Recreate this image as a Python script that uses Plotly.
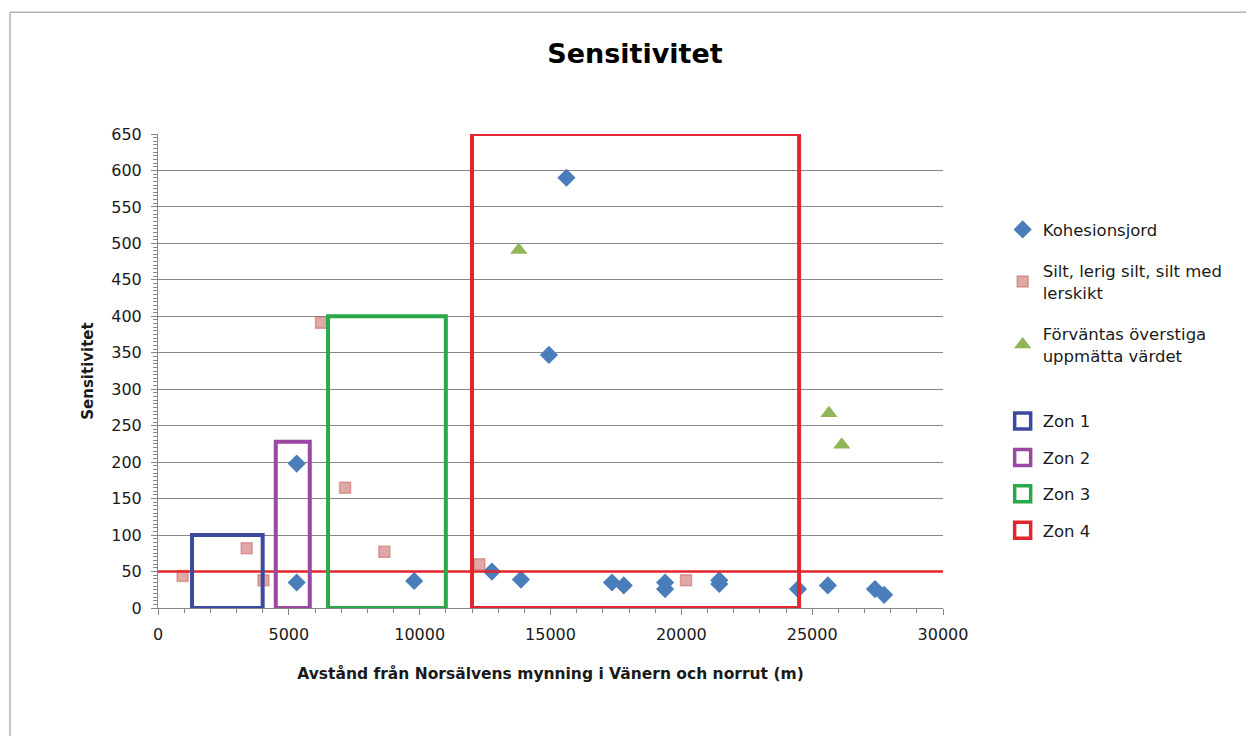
import plotly.graph_objects as go

# ---------------- data ----------------
koh_x = [5300, 5300, 9790, 12760, 13870, 14940, 15610, 17350, 17800, 19380, 19380, 21450, 21450, 24460, 25600, 27400, 27750]
koh_y = [198, 35, 37, 50, 39, 347, 590, 35, 31, 35, 26, 38, 33, 26, 31, 26, 18]

silt_x = [940, 3390, 4030, 6230, 7150, 8650, 12280, 20180]
silt_y = [44, 82, 38, 391, 165, 77, 60, 38]

exp_x = [13790, 25640, 26130]
exp_y = [491, 267, 224]

zone_names = ["Zon 1", "Zon 2", "Zon 3", "Zon 4"]
zone_x0 = [1300, 4500, 6500, 12000]
zone_x1 = [4000, 5800, 11000, 24500]
zone_top = [100, 228, 400, 650]
zone_colors = ["#3C4A9E", "#9A48A2", "#2AA84A", "#E3262D"]

threshold = 50

x_ticks = [0, 5000, 10000, 15000, 20000, 25000, 30000]
y_ticks = list(range(0, 651, 50))

FONT = "DejaVu Sans"
AXIS_GRAY = "#868686"
TXT = "#1a1a1a"

fig = go.Figure()

fig.add_trace(go.Scatter(
    x=koh_x, y=koh_y, mode="markers", name="Kohesionsjord", legendgroup="a",
    marker=dict(symbol="diamond", size=14, color="#4A7EBB"),
))
fig.add_trace(go.Scatter(
    x=silt_x, y=silt_y, mode="markers", name="Silt, lerig silt, silt med<br>lerskikt", legendgroup="b",
    marker=dict(symbol="square", size=11, color="rgba(214,140,138,0.75)",
                line=dict(width=1.5, color="rgba(192,80,77,0.45)")),
))
fig.add_trace(go.Scatter(
    x=exp_x, y=exp_y, mode="markers", name="Förväntas överstiga<br>uppmätta värdet", legendgroup="c",
    marker=dict(symbol="triangle-up", size=15, color="#92B55A"),
))

# zone legend entries
for name, c in zip(zone_names, zone_colors):
    fig.add_trace(go.Scatter(
        x=[None], y=[None], mode="markers", name=name, legend="legend2", legendgroup=name,
        marker=dict(symbol="square-open", size=16, color=c, line=dict(width=3.5, color=c)),
    ))

# threshold line
fig.add_shape(type="line", xref="paper", yref="y", x0=0, x1=1, y0=threshold, y1=threshold,
              line=dict(color="#E3262D", width=2.5), layer="above")

# zone rectangles
for x0, x1, top, c in zip(zone_x0, zone_x1, zone_top, zone_colors):
    fig.add_shape(type="rect", xref="x", yref="y", x0=x0, x1=x1, y0=0, y1=top,
                  line=dict(color=c, width=4), fillcolor="rgba(0,0,0,0)", layer="above")

# outer chart border
fig.add_shape(type="rect", xref="paper", yref="paper", x0=-0.1885, x1=1.41, y0=-0.31, y1=1.257,
              line=dict(color="#8C8C8C", width=1), layer="below")

fig.update_layout(
    width=1254, height=736,
    paper_bgcolor="white", plot_bgcolor="white",
    margin=dict(l=150, r=319, t=126, b=136),
    title=dict(text="<b>Sensitivitet</b>", x=0.5, xref="container", xanchor="center",
               y=1 - 46 / 736, yanchor="middle", font=dict(family=FONT, size=27, color="#000000")),
    font=dict(family=FONT, color=TXT),
    legend=dict(x=1.076, xanchor="left", y=0.835, yanchor="top",
                font=dict(family=FONT, size=16.5, color=TXT),
                tracegroupgap=17, itemwidth=30, bgcolor="rgba(0,0,0,0)"),
    legend2=dict(x=1.076, xanchor="left", y=0.431, yanchor="top",
                 font=dict(family=FONT, size=16.5, color=TXT),
                 tracegroupgap=12, itemwidth=30, bgcolor="rgba(0,0,0,0)"),
    showlegend=True,
)

fig.update_xaxes(
    range=[0, 30000], tickvals=x_ticks, ticktext=[str(v) for v in x_ticks],
    showgrid=False, zeroline=False,
    showline=True, linecolor=AXIS_GRAY, linewidth=1,
    ticks="outside", ticklen=6, tickcolor=AXIS_GRAY, ticklabelstandoff=6,
    minor=dict(dtick=1000, ticks="outside", ticklen=4, tickcolor=AXIS_GRAY, showgrid=False),
    tickfont=dict(family=FONT, size=16, color=TXT),
    title=dict(text="<b>Avstånd från Norsälvens mynning i Vänern och norrut (m)</b>",
               font=dict(family=FONT, size=15.5, color=TXT), standoff=24),
)
fig.update_yaxes(
    range=[0, 650], tickvals=y_ticks, ticktext=[str(v) for v in y_ticks],
    showgrid=True, gridcolor=AXIS_GRAY, gridwidth=1, zeroline=False,
    showline=True, linecolor=AXIS_GRAY, linewidth=1,
    ticks="outside", ticklen=6, tickcolor=AXIS_GRAY, ticklabelstandoff=6,
    minor=dict(dtick=5, ticks="outside", ticklen=4, tickcolor=AXIS_GRAY, showgrid=False),
    tickfont=dict(family=FONT, size=16, color=TXT),
    title=dict(text="<b>Sensitivitet</b>", font=dict(family=FONT, size=15, color=TXT), standoff=14),
)

fig.write_html("out.html")
